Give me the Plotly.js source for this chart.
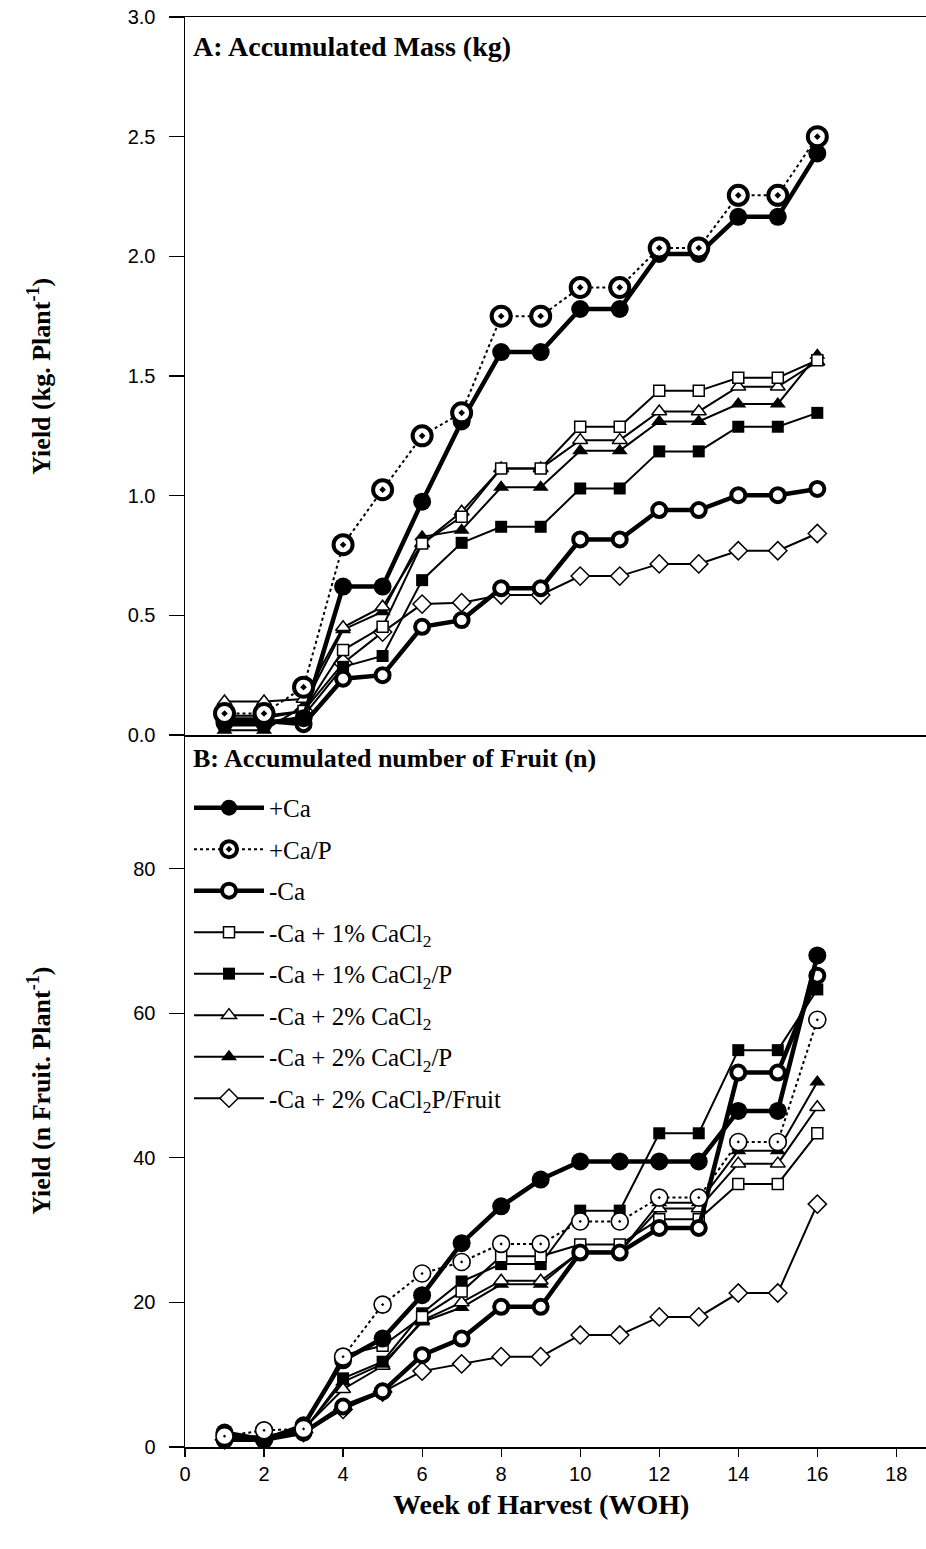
<!DOCTYPE html>
<html>
<head>
<meta charset="utf-8">
<script src="https://cdn.plot.ly/plotly-3.0.1.min.js"></script>
<style>html,body{margin:0;padding:0;background:#fff}#chart{width:926px;height:1549px}</style>
</head>
<body>
<div id="chart"></div>
<script>
// ---- data ----
const weeks = [1,2,3,4,5,6,7,8,9,10,11,12,13,14,15,16];
const seriesNames = ["+Ca","+Ca/P","-Ca","-Ca + 1% CaCl<sub>2</sub>","-Ca + 1% CaCl<sub>2</sub>/P","-Ca + 2% CaCl<sub>2</sub>","-Ca + 2% CaCl<sub>2</sub>/P","-Ca + 2% CaCl<sub>2</sub>P/Fruit"];

// Panel A: accumulated mass (kg / plant)
const massCa      = [0.05,0.05,0.07,0.62,0.62,0.975,1.31,1.60,1.60,1.78,1.78,2.01,2.01,2.165,2.165,2.43];
const massCaP     = [0.09,0.09,0.20,0.795,1.025,1.25,1.346,1.75,1.75,1.87,1.87,2.035,2.035,2.255,2.255,2.50];
const massNoCa    = [0.06,0.06,0.045,0.235,0.25,0.452,0.48,0.613,0.613,0.817,0.817,0.94,0.94,1.002,1.002,1.028];
const mass1       = [0.08,0.08,0.10,0.355,0.452,0.80,0.912,1.114,1.114,1.288,1.288,1.438,1.438,1.493,1.493,1.566];
const mass1P      = [0.04,0.04,0.08,0.285,0.33,0.647,0.803,0.87,0.87,1.03,1.03,1.185,1.185,1.288,1.288,1.346];
const mass2       = [0.14,0.14,0.15,0.45,0.536,0.80,0.933,1.114,1.114,1.232,1.232,1.352,1.352,1.455,1.455,1.56];
const mass2P      = [0.02,0.02,0.12,0.44,0.515,0.828,0.856,1.035,1.035,1.188,1.188,1.31,1.31,1.383,1.383,1.587];
const mass2PF     = [0.07,0.07,0.10,0.30,0.43,0.547,0.553,0.585,0.585,0.664,0.664,0.715,0.715,0.77,0.77,0.842];

// Panel B: accumulated number of fruit (n / plant)
const fruitCa     = [2.0,1.0,3.0,12.0,15.0,21.0,28.2,33.3,37.0,39.5,39.5,39.5,39.5,46.5,46.5,68.0];
const fruitCaP    = [1.5,2.3,2.5,12.5,19.7,24.0,25.6,28.1,28.1,31.2,31.2,34.5,34.5,42.2,42.2,59.1];
const fruitNoCa   = [1.0,1.0,2.0,5.6,7.7,12.7,15.0,19.4,19.4,26.9,26.9,30.3,30.3,51.8,51.8,65.2];
const fruit1      = [1.5,1.5,2.5,12.7,14.0,18.0,21.5,26.4,26.4,28.0,28.0,31.5,31.5,36.4,36.4,43.4];
const fruit1P     = [1.0,1.0,2.2,9.5,11.8,18.5,22.9,25.3,25.3,32.7,32.7,43.4,43.4,54.9,54.9,63.3];
const fruit2      = [1.2,1.2,2.5,8.0,11.2,17.5,20.0,23.0,23.0,27.0,27.0,33.0,33.0,39.2,39.2,47.0];
const fruit2P     = [1.2,1.2,2.3,9.0,11.5,17.3,19.3,22.5,22.5,27.0,27.0,33.8,33.8,41.0,41.0,50.5];
const fruit2PF    = [1.0,1.0,2.0,5.2,7.6,10.5,11.5,12.5,12.5,15.5,15.5,18.0,18.0,21.3,21.3,33.6];

const xTicks = [0,2,4,6,8,10,12,14,16,18];
const yTicksA = [0,0.5,1,1.5,2,2.5,3];
const yTicksB = [0,20,40,60,80];

// ---- styles ----
const K = '#000';
function st(idx, panel){
  const thin = {width:2, color:K};
  const s = [
    {line:{width:4.5,color:K}, marker:{symbol:'circle', size:18, color:K, line:{width:0,color:K}}},
    panel==='A'
      ? {line:{width:2,color:K,dash:'dot'}, marker:{symbol:'circle-dot', size:19, color:'#fff', line:{width:4,color:K}}}
      : {line:{width:2,color:K,dash:'dot'}, marker:{symbol:'circle-dot', size:17, color:'#fff', line:{width:1.6,color:K}}},
    {line:{width:4.5,color:K}, marker:{symbol:'circle', size:14, color:'#fff', line:{width:4,color:K}}},
    {line:thin, marker:{symbol:'square', size:11, color:'#fff', line:{width:1.5,color:K}}},
    {line:thin, marker:{symbol:'square', size:12, color:K, line:{width:0,color:K}}},
    {line:thin, marker:{symbol:'triangle-up', size:13, color:'#fff', line:{width:1.5,color:K}}},
    {line:thin, marker:{symbol:'triangle-up', size:14, color:K, line:{width:0,color:K}}},
    {line:thin, marker:{symbol:'diamond', size:14, color:'#fff', line:{width:1.5,color:K}}}
  ];
  return s[idx];
}

const massData = [massCa, massCaP, massNoCa, mass1, mass1P, mass2, mass2P, mass2PF];
const fruitData = [fruitCa, fruitCaP, fruitNoCa, fruit1, fruit1P, fruit2, fruit2P, fruit2PF];
const drawOrder = [7,6,5,4,3,2,0,1];

const traces = [];
drawOrder.forEach(i => {
  const s = st(i,'A');
  traces.push({x:weeks, y:massData[i], xaxis:'x', yaxis:'y', mode:'lines+markers', name:seriesNames[i],
    legendrank:i+1, legendgroup:'g'+i, showlegend:true, line:s.line, marker:s.marker, cliponaxis:false});
});
drawOrder.forEach(i => {
  const s = st(i,'B');
  traces.push({x:weeks, y:fruitData[i], xaxis:'x2', yaxis:'y2', mode:'lines+markers', name:seriesNames[i],
    legendgroup:'g'+i, showlegend:false, line:s.line, marker:s.marker, cliponaxis:false});
});

const split = 0.4979;
const tickFont = {family:'Liberation Sans, Arial, sans-serif', size:20, color:K};
const serifB = 'Liberation Serif, Times New Roman, serif';

const layout = {
  width:926, height:1549,
  margin:{l:185, r:0, t:17, b:102},
  paper_bgcolor:'#fff', plot_bgcolor:'rgba(0,0,0,0)',
  showlegend:true,
  legend:{x:0.0054, y:0.463, xanchor:'left', yanchor:'top', bgcolor:'rgba(0,0,0,0)',
    font:{family:serifB, size:25, color:K}, tracegroupgap:6, itemwidth:70, traceorder:'grouped'},
  xaxis:{domain:[0,1], anchor:'y', range:[0,18.75], showgrid:false, zeroline:false,
    showline:true, linecolor:K, linewidth:1.5, mirror:true, ticks:'', showticklabels:false,
    tickvals:xTicks},
  yaxis:{domain:[split,1], anchor:'x', range:[0,3], showgrid:false, zeroline:false,
    showline:true, linecolor:K, linewidth:1.5, ticks:'outside', ticklen:15, tickwidth:1.2, tickcolor:K,
    tickvals:yTicksA, ticktext:yTicksA.map(v=>v.toFixed(1)),
    tickfont:tickFont, ticklabelstandoff:9},
  xaxis2:{domain:[0,1], anchor:'y2', range:[0,18.75], showgrid:false, zeroline:false,
    showline:true, linecolor:K, linewidth:1.5, ticks:'outside', ticklen:8, tickwidth:1.2, tickcolor:K,
    tickvals:xTicks, ticktext:xTicks.map(String), tickfont:tickFont},
  yaxis2:{domain:[0,split], anchor:'x2', range:[0,98.5], showgrid:false, zeroline:false,
    showline:true, linecolor:K, linewidth:1.5, ticks:'outside', ticklen:15, tickwidth:1.2, tickcolor:K,
    tickvals:yTicksB, ticktext:yTicksB.map(String), tickfont:tickFont, ticklabelstandoff:9},
  annotations:[
    {text:'<b>A: Accumulated Mass (kg)</b>', xref:'paper', yref:'paper', x:0.008, y:0.9797,
      xanchor:'left', yanchor:'middle', showarrow:false, font:{family:serifB, size:28, color:K}},
    {text:'<b>B: Accumulated number of Fruit (n)</b>', xref:'paper', yref:'paper', x:0.008, y:0.4818,
      xanchor:'left', yanchor:'middle', showarrow:false, font:{family:serifB, size:26, color:K}},
    {text:'<b>Yield (kg. Plant<sup>-1</sup>)</b>', xref:'paper', yref:'paper', x:-0.196, y:0.749,
      xanchor:'center', yanchor:'middle', textangle:-90, showarrow:false, font:{family:serifB, size:26, color:K}},
    {text:'<b>Yield (n Fruit. Plant<sup>-1</sup>)</b>', xref:'paper', yref:'paper', x:-0.196, y:0.249,
      xanchor:'center', yanchor:'middle', textangle:-90, showarrow:false, font:{family:serifB, size:26, color:K}},
    {text:'<b>Week of Harvest (WOH)</b>', xref:'x2', yref:'paper', x:9, y:-0.04,
      xanchor:'center', yanchor:'middle', showarrow:false, font:{family:serifB, size:28, color:K}}
  ]
};

Plotly.newPlot('chart', traces, layout, {staticPlot:true, displayModeBar:false});
</script>
</body>
</html>
